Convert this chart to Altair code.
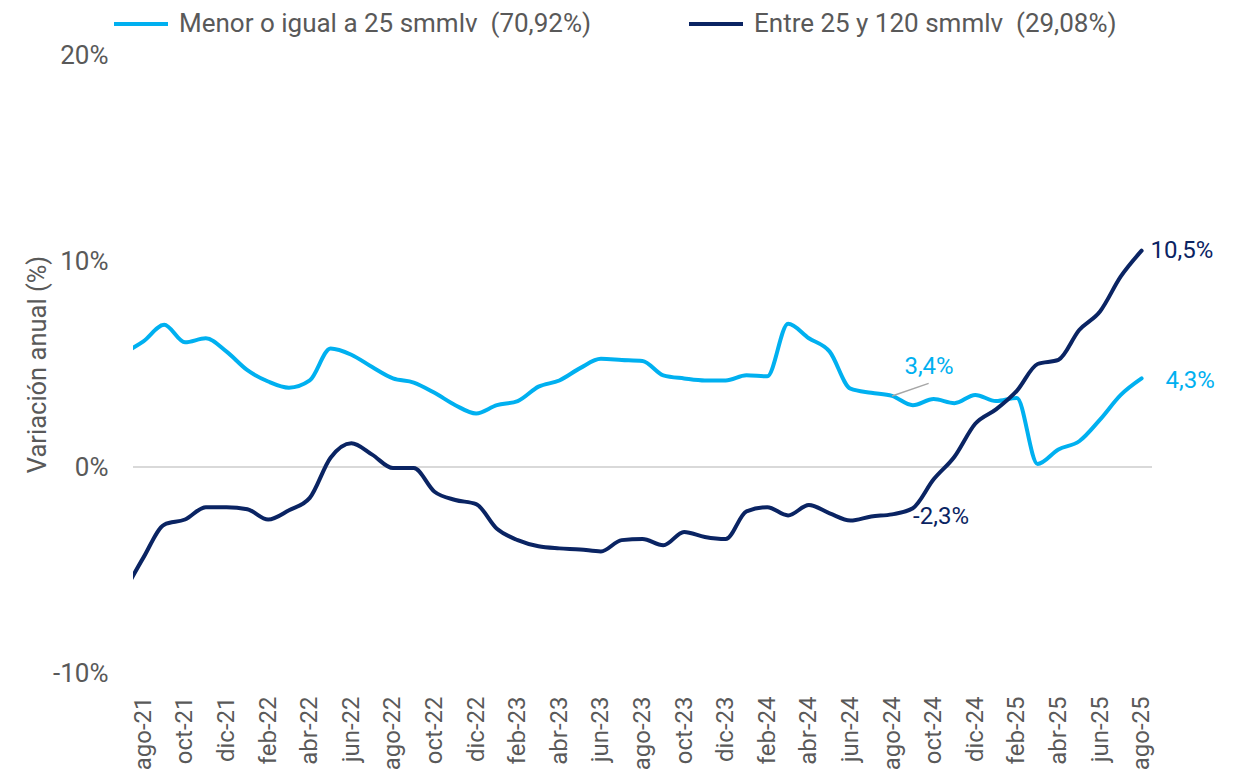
import altair as alt
import pandas as pd

months = ["jul-21",
          "ago-21","sep-21","oct-21","nov-21","dic-21","ene-22","feb-22","mar-22","abr-22","may-22","jun-22","jul-22",
          "ago-22","sep-22","oct-22","nov-22","dic-22","ene-23","feb-23","mar-23","abr-23","may-23","jun-23","jul-23",
          "ago-23","sep-23","oct-23","nov-23","dic-23","ene-24","feb-24","mar-24","abr-24","may-24","jun-24","jul-24",
          "ago-24","sep-24","oct-24","nov-24","dic-24","ene-25","feb-25","mar-25","abr-25","may-25","jun-25","jul-25",
          "ago-25"]

menor = [5.5,
         6.1, 6.9, 6.05, 6.25, 5.6, 4.7, 4.15, 3.85, 4.2, 5.75, 5.45, 4.85,
         4.3, 4.1, 3.6, 3.0, 2.6, 3.0, 3.2, 3.9, 4.2, 4.8, 5.25, 5.2,
         5.15, 4.45, 4.3, 4.2, 4.2, 4.45, 4.4, 6.95, 6.25, 5.6, 3.8, 3.6,
         3.45, 3.0, 3.3, 3.1, 3.5, 3.2, 3.35, 0.15, 0.85, 1.25, 2.3, 3.5,
         4.3]

entre = [-6.2,
         -4.4, -2.8, -2.55, -1.95, -1.95, -2.05, -2.55, -2.1, -1.5, 0.45, 1.15, 0.6,
         -0.05, -0.05, -1.2, -1.6, -1.8, -3.0, -3.55, -3.85, -3.95, -4.0, -4.1, -3.55,
         -3.5, -3.8, -3.15, -3.4, -3.5, -2.15, -1.95, -2.35, -1.85, -2.25, -2.6, -2.4,
         -2.3, -2.0, -0.6, 0.5, 2.1, 2.8, 3.7, 5.0, 5.2, 6.65, 7.55, 9.25,
         10.5]

series_names = ["Menor o igual a 25 smmlv\u00a0\u00a0(70,92%)", "Entre 25 y 120 smmlv\u00a0\u00a0(29,08%)"]
colors = ["#00B0F0", "#0A2463"]
y_ticks = [-10, 0, 10, 20]

rows = []
for k, m in enumerate(months):
    i = k - 1  # ago-21 is position 0
    rows.append({"i": i, "mes": m, "serie": series_names[0], "valor": menor[k]})
    rows.append({"i": i, "mes": m, "serie": series_names[1], "valor": entre[k]})
df = pd.DataFrame(rows)

# annotations
ann_idx = [36, 48, 36, 48]
ann_val = [3.45, 4.3, -2.3, 10.5]
ann_txt = ["3,4%", "4,3%", "-2,3%", "10,5%"]
ann_col = [colors[0], colors[0], colors[1], colors[1]]
ann_dx = [37, 24, 21, 9]
ann_dy = [-29, 3, 3, 0]
ann_align = ["center", "left", "left", "left"]

leader = pd.DataFrame({"x": [36], "y": [3.45], "x2": [37.76], "y2": [4.06]})

label_js = "[" + ",".join('"%s"' % m for m in months[1:]) + "]"

xscale = alt.Scale(domain=[-0.5, 48.5], nice=False, zero=False)
yscale = alt.Scale(domain=[-10, 20], nice=False)

base = alt.Chart(df)

zero = alt.Chart(pd.DataFrame({"y": [0]})).mark_rule(color="#D9D9D9", strokeWidth=2).encode(
    y=alt.Y("y:Q", scale=yscale)
)

lines = base.mark_line(strokeWidth=4, interpolate="monotone", strokeCap="round", clip=True).encode(
    x=alt.X("i:Q", scale=xscale,
            axis=alt.Axis(values=list(range(0, 49, 2)), labelExpr=label_js + "[datum.value]",
                          labelAngle=-90, labelAlign="right", labelBaseline="middle",
                          labelPadding=23, labelFontSize=24, labelColor="#595959",
                          domain=False, ticks=False, grid=False, title=None, labelOverlap=False)),
    y=alt.Y("valor:Q", scale=yscale,
            axis=alt.Axis(values=y_ticks, labelExpr="datum.value + '%'", labelFontSize=26,
                          labelColor="#595959", labelPadding=25, domain=False, ticks=False, grid=False,
                          title="Variación anual (%)", titleFontSize=25.5, titleColor="#595959",
                          titleFontWeight="normal", titlePadding=2)),
    color=alt.Color("serie:N", sort=series_names,
                    scale=alt.Scale(domain=series_names, range=colors),
                    legend=alt.Legend(title=None, orient="none", direction="horizontal",
                                      legendX=-21, legendY=-60, symbolType="stroke",
                                      symbolSize=2916, symbolStrokeWidth=4, labelFontSize=26,
                                      labelColor="#595959", labelOffset=9, columnPadding=89,
                                      labelLimit=1000)),
    detail="serie:N",
)

rule = alt.Chart(leader).mark_rule(color="#A6A6A6", strokeWidth=1.5).encode(
    x=alt.X("x:Q", scale=xscale), y=alt.Y("y:Q", scale=yscale),
    x2="x2:Q", y2="y2:Q"
)

layers = [zero, lines, rule]
for k in range(len(ann_txt)):
    d = pd.DataFrame({"x": [ann_idx[k]], "y": [ann_val[k]], "t": [ann_txt[k]]})
    layers.append(
        alt.Chart(d).mark_text(fontSize=24, color=ann_col[k], dx=ann_dx[k], dy=ann_dy[k],
                               align=ann_align[k], baseline="middle").encode(
            x=alt.X("x:Q", scale=xscale), y=alt.Y("y:Q", scale=yscale), text="t:N")
    )

chart = alt.layer(*layers).properties(
    width=1019, height=618,
    autosize=alt.AutoSizeParams(type="none"),
    padding={"left": 125, "top": 47, "right": 75, "bottom": 97},
).configure(font="Roboto").configure_view(stroke=None)

chart.save("out.html", embed_options={"renderer": "svg", "actions": False})
